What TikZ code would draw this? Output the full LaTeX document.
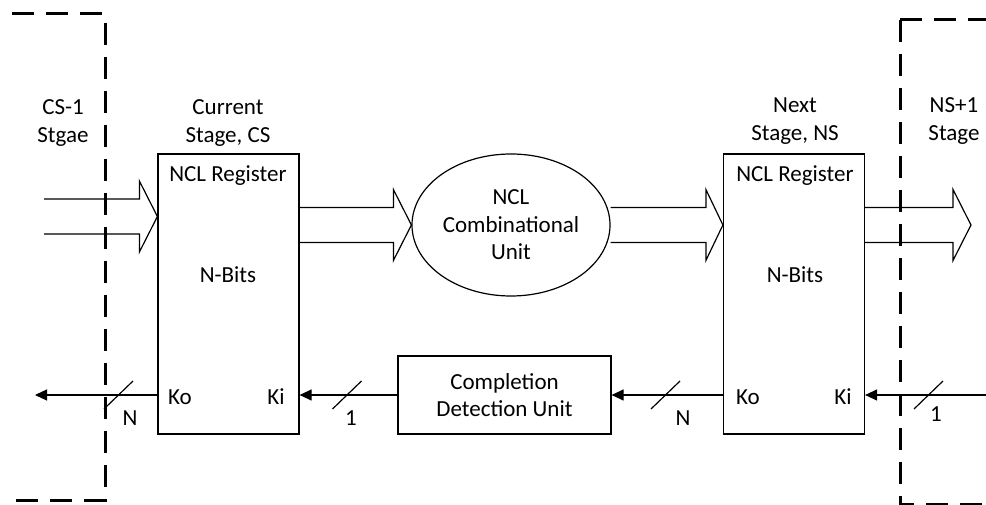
\documentclass[tikz,border=0pt]{standalone}
\usepackage{fontspec}
\setmainfont{Carlito}
\usetikzlibrary{arrows.meta,calc,shapes.geometric}

% wide "bus" arrow: #1 start point, #2 tip point, #3 head length
\newcommand\busarrow[3]{%
  \draw[busline] ($#1+(0,-17.5)$) -- ($#2+(-#3,-17.5)$) -- ($#2+(-#3,-35.5)$)
    -- #2 -- ($#2+(-#3,35.5)$) -- ($#2+(-#3,17.5)$) -- ($#1+(0,17.5)$);}
% bus-width slash across a handshake line
\newcommand\buswidth[1]{%
  \draw[thinline] ($(#1)+(-14.5,14)$) -- ($(#1)+(14.5,-14)$);}

\begin{document}
\begin{tikzpicture}[x=1pt,y=-1pt,
  every node/.style={font=\fontsize{23}{27.5}\selectfont},
  lbl/.style={inner sep=0pt, align=center},
  thinline/.style={line width=1.2pt},
  busline/.style={line width=1.2pt, line join=miter},
  regbox/.style={draw, line width=1.2pt, minimum width=141pt, minimum height=280pt, inner sep=0pt},
  ctrl/.style={line width=1.2pt, -{Triangle[length=12pt,width=11pt]}},
  stagebound/.style={line width=3pt, dash pattern=on 22pt off 12pt}
]
\useasboundingbox (0,0) rectangle (986,505);

% stage boundaries
\draw[stagebound] (12,14) -- (105,14) -- (105,500) -- (12,500);
\draw[stagebound] (900,20) -- (986,20);
\draw[stagebound] (900,20) -- (900,504) -- (986,504);

% blocks
\node[regbox] (cs) at (228.5,294) {};
\node[regbox] (ns) at (794,294) {};
\node[draw, ellipse, line width=1.2pt, minimum width=198pt, minimum height=142pt,
      inner sep=0pt, align=center] (comb) at (511,225) {NCL\\Combinational\\Unit};
\node[draw, line width=1.2pt, minimum width=213pt, minimum height=78pt,
      inner sep=0pt, align=center] (cdu) at (504.5,395) {Completion\\Detection Unit};

% stage titles
\node[lbl] (prevname) at (63,123) {CS-1\\Stgae};
\node[lbl] (csname) at (228,123) {Current\\Stage, CS};
\node[lbl] (nsname) at (795,121) {Next\\Stage, NS};
\node[lbl] (nextname) at (954,121) {NS+1\\Stage};

% register labels
\node[lbl, anchor=base] (csreg) at (228,182) {NCL Register};
\node[lbl, anchor=base] (csbits) at (228,283) {N-Bits};
\node[lbl, anchor=base] (csko) at (180,404) {Ko};
\node[lbl, anchor=base] (cski) at (276,404) {Ki};
\node[lbl, anchor=base] (nsreg) at (795,182) {NCL Register};
\node[lbl, anchor=base] (nsbits) at (795,283) {N-Bits};
\node[lbl, anchor=base] (nsko) at (748,404) {Ko};
\node[lbl, anchor=base] (nski) at (843,404) {Ki};

% data buses
\coordinate (inL) at (44,216.5);
\coordinate (outR) at (971,225);
\busarrow{(inL)}{(cs.west |- inL)}{18}
\busarrow{(cs.east |- comb.west)}{(comb.west)}{18}
\busarrow{(comb.east)}{(ns.west |- comb.east)}{17}
\busarrow{(ns.east |- outR)}{(outR)}{18}

% handshake lines
\coordinate (ackL) at (35,395);
\coordinate (ackR) at (986,395);
\draw[ctrl] (cs.west |- cdu.west) -- (ackL);
\draw[ctrl] (cdu.west) -- (cs.east |- cdu.west);
\draw[ctrl] (ns.west |- cdu.east) -- (cdu.east);
\draw[ctrl] (ackR) -- (ns.east |- ackR);

% bus widths
\coordinate (w0) at (118.5,395);
\coordinate (w1) at (347,395);
\coordinate (w2) at (665.5,395);
\coordinate (w3) at (928.5,395);
\buswidth{w0} \buswidth{w1} \buswidth{w2} \buswidth{w3}
\node[lbl, anchor=base] (w0l) at (130,425) {N};
\node[lbl, anchor=base] (w1l) at (351,425) {1};
\node[lbl, anchor=base] (w2l) at (683,425) {N};
\node[lbl, anchor=base] (w3l) at (936,421) {1};
\end{tikzpicture}
\end{document}
